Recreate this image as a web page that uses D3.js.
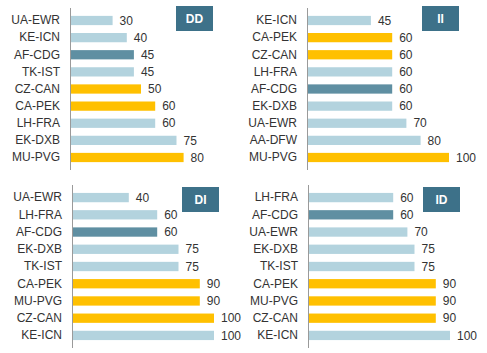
<!DOCTYPE html>
<html>
<head>
<meta charset="utf-8">
<script src="https://cdn.jsdelivr.net/npm/d3@7"></script>
<style>
  body { margin: 0; background: #fff; }
</style>
</head>
<body>
<div id="chart"></div>
<script>
// datos por panel
const ddRoutes = ["UA-EWR", "KE-ICN", "AF-CDG", "TK-IST", "CZ-CAN", "CA-PEK", "LH-FRA", "EK-DXB", "MU-PVG"]
const ddValues = [30, 40, 45, 45, 50, 60, 60, 75, 80]

const iiRoutes = ["KE-ICN", "CA-PEK", "CZ-CAN", "LH-FRA", "AF-CDG", "EK-DXB", "UA-EWR", "AA-DFW", "MU-PVG"]
const iiValues = [45, 60, 60, 60, 60, 60, 70, 80, 100]

const diRoutes = ["UA-EWR", "LH-FRA", "AF-CDG", "EK-DXB", "TK-IST", "CA-PEK", "MU-PVG", "CZ-CAN", "KE-ICN"]
const diValues = [40, 60, 60, 75, 75, 90, 90, 100, 100]

const idRoutes = ["LH-FRA", "AF-CDG", "UA-EWR", "EK-DXB", "TK-IST", "CA-PEK", "MU-PVG", "CZ-CAN", "KE-ICN"]
const idValues = [60, 60, 70, 75, 75, 90, 90, 90, 100]

const panelTitles = ["DD", "II", "DI", "ID"]

// colores
const highlight = ["CA-PEK", "CZ-CAN", "MU-PVG"]
const colorOf = r => r === "AF-CDG" ? "#5f8fa2" : (highlight.includes(r) ? "#ffc000" : "#b3d3de")

const width = 487, height = 353

const svg = d3.select("#chart").append("svg")
    .attr("width", width)
    .attr("height", height)
    .style("font-family", "'Liberation Sans', Arial, sans-serif")

const panels = [
    { title: panelTitles[0], routes: ddRoutes, values: ddValues, x0: 70, y: [8, 170], badge: [176, 6] },
    { title: panelTitles[1], routes: iiRoutes, values: iiValues, x0: 307, y: [8, 170], badge: [422, 6] },
    { title: panelTitles[2], routes: diRoutes, values: diValues, x0: 72, y: [185, 348], badge: [182, 187] },
    { title: panelTitles[3], routes: idRoutes, values: idValues, x0: 308, y: [185, 348], badge: [423, 187] }
]

panels.forEach(p => {
    const x = d3.scaleLinear().domain([0, 100]).range([p.x0, p.x0 + 142])
    const y = d3.scaleBand().domain(p.routes).range(p.y).padding(0.46)
    const data = p.routes.map((r, i) => ({ route: r, value: p.values[i] }))

    const g = svg.append("g")

    g.selectAll("rect.bar")
        .data(data)
        .join("rect")
        .attr("class", "bar")
        .attr("x", x(0))
        .attr("y", d => y(d.route))
        .attr("width", d => x(d.value) - x(0))
        .attr("height", y.bandwidth())
        .attr("fill", d => colorOf(d.route))

    // eje vertical
    const yAxis = d3.axisLeft(y).tickSize(0).tickPadding(10)
    const ax = g.append("g")
        .attr("transform", `translate(${x(0)},0)`)
        .call(yAxis)
    ax.select(".domain").attr("stroke", "#9a9a9a").attr("d", `M0.5,${p.y[0]}V${p.y[1]}`)
    ax.selectAll(".tick text")
        .attr("font-size", "12px")
        .attr("fill", "#333")
        .style("font-family", "'Liberation Sans', Arial, sans-serif")

    // etiquetas de valor
    g.selectAll("text.val")
        .data(data)
        .join("text")
        .attr("class", "val")
        .attr("x", d => x(d.value) + 7)
        .attr("y", d => y(d.route) + y.bandwidth() / 2)
        .attr("dy", "0.35em")
        .attr("font-size", "12px")
        .attr("fill", "#333")
        .text(d => d.value)

    // recuadro del título
    g.append("rect")
        .attr("x", p.badge[0])
        .attr("y", p.badge[1])
        .attr("width", 37)
        .attr("height", 25)
        .attr("fill", "#3d7189")
    g.append("text")
        .attr("x", p.badge[0] + 18.5)
        .attr("y", p.badge[1] + 12.5)
        .attr("dy", "0.35em")
        .attr("text-anchor", "middle")
        .attr("font-size", "12px")
        .attr("font-weight", "bold")
        .attr("fill", "#fff")
        .text(p.title)
})
</script>
</body>
</html>
